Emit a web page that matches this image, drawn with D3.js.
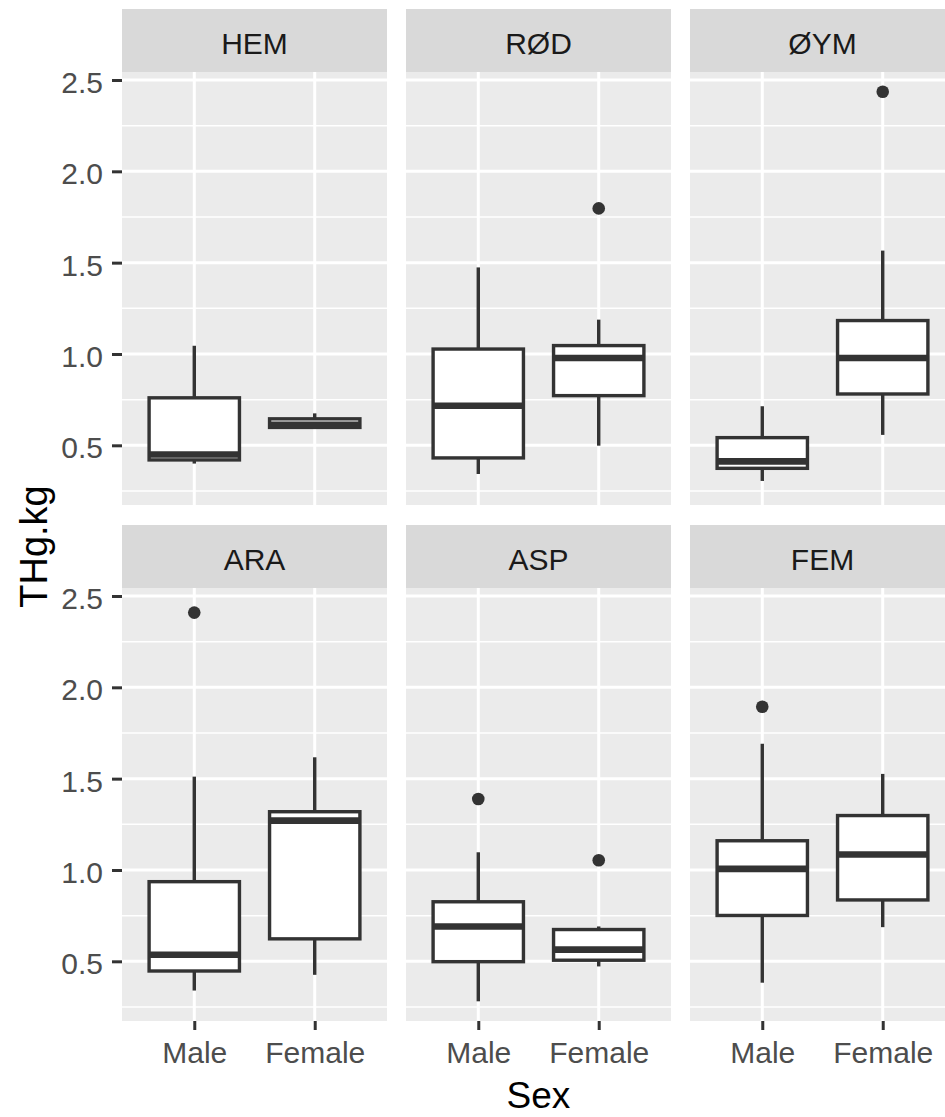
<!DOCTYPE html>
<html>
<head>
<meta charset="utf-8">
<script src="https://cdn.jsdelivr.net/npm/d3@7"></script>
<style>
  html, body { margin: 0; padding: 0; background: #ffffff; }
  svg { display: block; }
  text { font-family: "Liberation Sans", Arial, sans-serif; }
</style>
</head>
<body>
<svg id="chart" width="945" height="1117"></svg>
<script>
// ---------------- data ----------------
const facets = ["HEM", "RØD", "ØYM", "ARA", "ASP", "FEM"];
const sexes = ["Male", "Female"];
// each entry: [Male, Female]
const whiskerLow  = [[0.400, 0.595], [0.343, 0.498], [0.305, 0.557], [0.340, 0.426], [0.281, 0.472], [0.383, 0.687]];
const quartile1   = [[0.420, 0.598], [0.431, 0.772], [0.374, 0.781], [0.447, 0.623], [0.498, 0.506], [0.751, 0.836]];
const medians     = [[0.450, 0.612], [0.717, 0.978], [0.412, 0.978], [0.536, 1.270], [0.691, 0.564], [1.006, 1.085]];
const quartile3   = [[0.760, 0.645], [1.027, 1.046], [0.542, 1.183], [0.936, 1.319], [0.826, 0.674], [1.160, 1.298]];
const whiskerHigh = [[1.045, 0.675], [1.474, 1.188], [0.714, 1.566], [1.511, 1.617], [1.097, 0.691], [1.691, 1.526]];
const outliers    = [[[], []], [[], [1.797]], [[], [2.436]], [[2.409], []], [[1.389], [1.053]], [[1.894], []]];
const yTicks = [0.5, 1.0, 1.5, 2.0, 2.5];
const yMinor = [0.25, 0.75, 1.25, 1.75, 2.25];
const xTitle = "Sex";
const yTitle = "THg.kg";

// ---------------- layout ----------------
const svg = d3.select("#chart");
const panelLeft0 = 122, panelW = 265, panelGap = 19;
const stripTops = [9, 525], stripH = 63, panelH = 433;
const nCols = 3;

// shared y domain (ggplot: 5% expansion of data range)
const allVals = [];
facets.forEach((f, i) => {
  [0, 1].forEach(j => {
    allVals.push(whiskerLow[i][j], whiskerHigh[i][j]);
    outliers[i][j].forEach(v => allVals.push(v));
  });
});
const ext = d3.extent(allVals);
const pad = (ext[1] - ext[0]) * 0.05;
const yDomain = [ext[0] - pad, ext[1] + pad];

const x = d3.scalePoint().domain(sexes).range([0, panelW]).padding(0.6);
const boxW = x.step() * 0.75;

const darkCol = "#333333";

facets.forEach((f, i) => {
  const col = i % nCols, row = Math.floor(i / nCols);
  const px = panelLeft0 + col * (panelW + panelGap);
  const st = stripTops[row];
  const pt = st + stripH;
  const y = d3.scaleLinear().domain(yDomain).range([pt + panelH, pt]);

  const g = svg.append("g").attr("transform", `translate(${px},0)`);

  // strip
  g.append("rect").attr("x", 0).attr("y", st).attr("width", panelW).attr("height", stripH)
    .attr("fill", "#D9D9D9");
  g.append("text").attr("x", panelW / 2).attr("y", st + stripH / 2 + 13)
    .attr("text-anchor", "middle").attr("font-size", 30).attr("fill", "#1A1A1A").text(f);

  // panel background
  g.append("rect").attr("x", 0).attr("y", pt).attr("width", panelW).attr("height", panelH)
    .attr("fill", "#EBEBEB");

  // minor grid
  g.selectAll(".minor").data(yMinor.filter(v => v >= yDomain[0] && v <= yDomain[1])).enter()
    .append("line").attr("x1", 0).attr("x2", panelW)
    .attr("y1", d => y(d)).attr("y2", d => y(d))
    .attr("stroke", "#FFFFFF").attr("stroke-width", 1.5);
  // major grid
  g.selectAll(".major").data(yTicks).enter()
    .append("line").attr("x1", 0).attr("x2", panelW)
    .attr("y1", d => y(d)).attr("y2", d => y(d))
    .attr("stroke", "#FFFFFF").attr("stroke-width", 3);
  g.selectAll(".vmajor").data(sexes).enter()
    .append("line").attr("x1", d => x(d)).attr("x2", d => x(d))
    .attr("y1", pt).attr("y2", pt + panelH)
    .attr("stroke", "#FFFFFF").attr("stroke-width", 3);

  // boxplots
  sexes.forEach((s, j) => {
    const cx = x(s);
    const lo = whiskerLow[i][j], q1 = quartile1[i][j], md = medians[i][j],
          q3 = quartile3[i][j], hi = whiskerHigh[i][j];
    // whiskers
    g.append("line").attr("x1", cx).attr("x2", cx).attr("y1", y(q3)).attr("y2", y(hi))
      .attr("stroke", darkCol).attr("stroke-width", 3.4);
    g.append("line").attr("x1", cx).attr("x2", cx).attr("y1", y(q1)).attr("y2", y(lo))
      .attr("stroke", darkCol).attr("stroke-width", 3.4);
    // box
    g.append("rect").attr("x", cx - boxW / 2).attr("y", y(q3))
      .attr("width", boxW).attr("height", Math.max(0.1, y(q1) - y(q3)))
      .attr("fill", "#FFFFFF").attr("stroke", darkCol).attr("stroke-width", 3.4);
    // median
    g.append("line").attr("x1", cx - boxW / 2).attr("x2", cx + boxW / 2)
      .attr("y1", y(md)).attr("y2", y(md))
      .attr("stroke", darkCol).attr("stroke-width", 6.6);
    // outliers
    g.selectAll(null).data(outliers[i][j]).enter()
      .append("circle").attr("cx", cx).attr("cy", d => y(d)).attr("r", 6.3)
      .attr("fill", darkCol);
  });

  // y axis on left column
  if (col === 0) {
    const ya = g.append("g")
      .call(d3.axisLeft(y).tickValues(yTicks).tickSize(10).tickPadding(9)
        .tickFormat(d3.format(".1f")));
    ya.select(".domain").remove();
    ya.selectAll(".tick line").attr("stroke", darkCol).attr("stroke-width", 3);
    ya.selectAll(".tick text").attr("font-size", 30).attr("fill", "#4D4D4D")
      .attr("font-family", '"Liberation Sans", Arial, sans-serif').attr("dy", "0.42em");
  }
  // x axis on bottom row
  if (row === 1) {
    const xa = g.append("g").attr("transform", `translate(0,${pt + panelH})`)
      .call(d3.axisBottom(x).tickSize(9).tickPadding(12));
    xa.select(".domain").remove();
    xa.selectAll(".tick line").attr("stroke", darkCol).attr("stroke-width", 3);
    xa.selectAll(".tick text").attr("font-size", 30).attr("fill", "#4D4D4D")
      .attr("font-family", '"Liberation Sans", Arial, sans-serif');
  }
});

// axis titles
const panelsRight = panelLeft0 + nCols * panelW + (nCols - 1) * panelGap;
svg.append("text").attr("x", (panelLeft0 + panelsRight) / 2).attr("y", 1108)
  .attr("text-anchor", "middle").attr("font-size", 37).attr("fill", "#000000").text(xTitle);
svg.append("text")
  .attr("transform", `translate(47, ${(stripTops[0] + stripH + stripTops[1] + stripH + panelH) / 2}) rotate(-90)`)
  .attr("text-anchor", "middle").attr("font-size", 38).attr("fill", "#000000").text(yTitle);
</script>
</body>
</html>
